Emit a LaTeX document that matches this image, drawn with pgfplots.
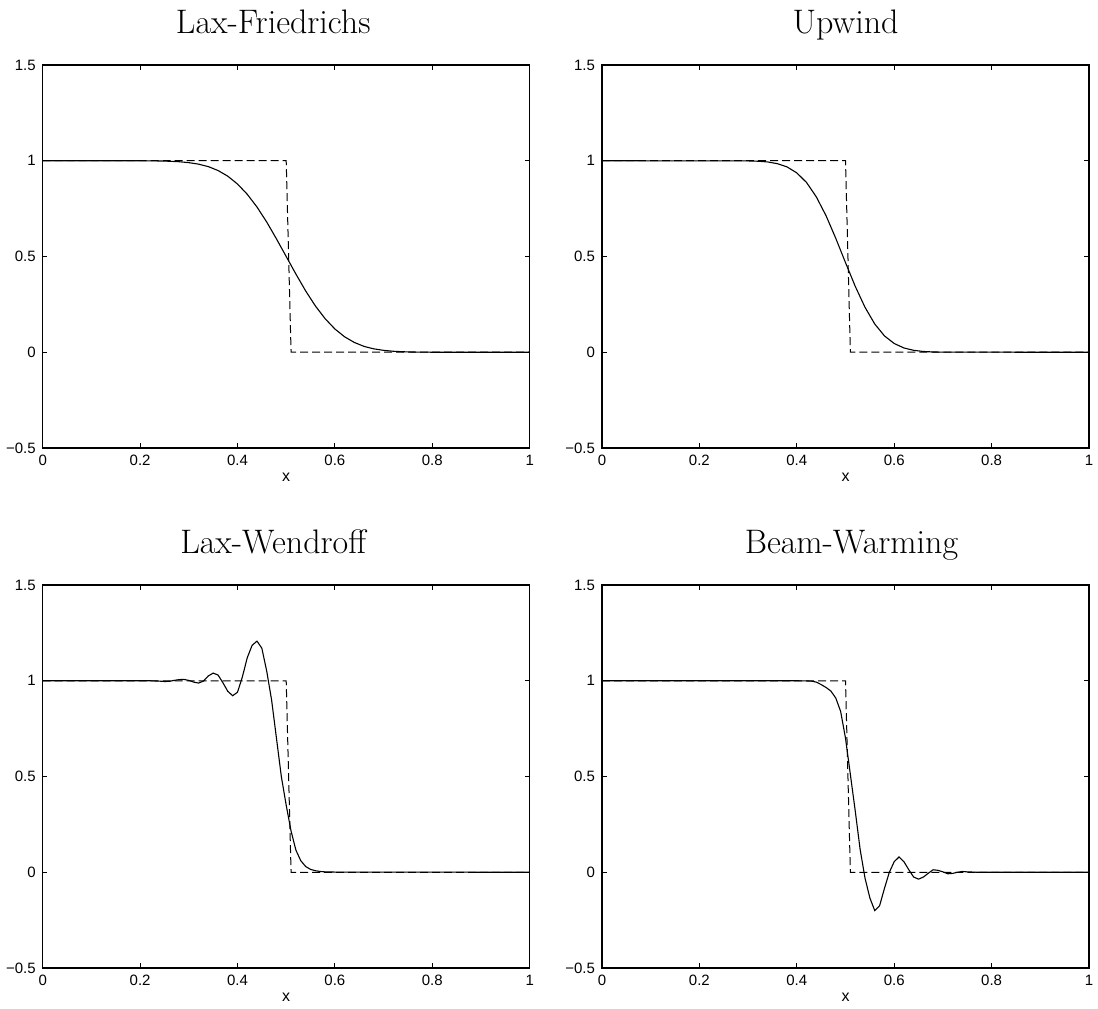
\documentclass[border=0pt]{standalone}
\usepackage{fontspec}
\usepackage{pgfplots}
\pgfplotsset{compat=1.18}
\newfontfamily\helv{Liberation Sans}

% shared look of the four panels
\pgfplotsset{
  scheme/.style={
    scale only axis, width=243.5pt, height=191.5pt,
    xmin=0, xmax=1, ymin=-0.5, ymax=1.5,
    xtick={0,0.2,0.4,0.6,0.8,1},
    xticklabels={0,0.2,0.4,0.6,0.8,1},
    ytick={-0.5,0,0.5,1,1.5},
    yticklabels={−0.5,0,0.5,1,1.5},
    tick align=inside, xtick pos=both, ytick pos=both,
    major tick length=2.4pt,
    axis line style={line width=0.7pt},
    every tick/.style={black, line width=0.5pt},
    tick label style={font=\helv\fontsize{7.5}{8}\selectfont},
    xlabel={x},
    xlabel style={font=\helv\fontsize{8}{9}\selectfont,
      at={(axis description cs:0.5,0)}, anchor=center, yshift=-14.5pt},
    every axis title shift=0pt,
    title style={font=\fontsize{17}{20}\selectfont, inner sep=0pt,
      at={(axis description cs:0.5,1)}, anchor=base, yshift=15.8pt},
  },
  exact/.style={black, line width=0.5pt, dash pattern=on 4pt off 2pt},
  num/.style={black, line width=0.55pt},
}

\pgfplotstableread{
x y
0 1
0.5 1
0.51 0
1 0
}\exact

\pgfplotstableread{
x y
0 1
0.20 0.9998
0.22 0.9995
0.24 0.9988
0.26 0.9974
0.28 0.9949
0.30 0.9901
0.32 0.9823
0.34 0.9695
0.36 0.949
0.38 0.9195
0.40 0.8785
0.42 0.825
0.44 0.7585
0.46 0.680
0.48 0.592
0.50 0.5
0.52 0.408
0.54 0.320
0.56 0.2415
0.58 0.175
0.60 0.1215
0.62 0.0805
0.64 0.051
0.66 0.0305
0.68 0.0177
0.70 0.0099
0.72 0.0051
0.74 0.0026
0.76 0.0012
0.78 0.0005
0.80 0.0002
1 0
}\laxf

\pgfplotstableread{
x y
0 1
0.30 0.9991
0.32 0.9975
0.34 0.9938
0.36 0.9847
0.38 0.9678
0.40 0.9367
0.42 0.8864
0.44 0.8116
0.46 0.7133
0.48 0.595
0.50 0.468
0.52 0.344
0.54 0.235
0.56 0.1477
0.58 0.0853
0.60 0.0457
0.62 0.0223
0.64 0.0100
0.66 0.0040
0.68 0.0015
0.70 0.0005
1 0
}\upwind

\pgfplotstableread{
x y
0 1
0.20 1.000
0.22 1.000
0.23 0.999
0.24 0.998
0.25 0.996
0.26 0.997
0.27 1.002
0.28 1.006
0.29 1.007
0.30 1.002
0.31 0.993
0.32 0.988
0.33 0.998
0.34 1.025
0.35 1.040
0.36 1.030
0.37 0.990
0.38 0.945
0.39 0.922
0.40 0.940
0.41 1.020
0.42 1.120
0.43 1.185
0.44 1.207
0.45 1.170
0.46 1.050
0.47 0.900
0.48 0.700
0.49 0.500
0.50 0.350
0.51 0.215
0.52 0.115
0.53 0.060
0.54 0.030
0.55 0.015
0.56 0.008
0.57 0.004
0.58 0.002
0.60 0.001
1 0
}\laxw

\pgfplotstableread{
x y
0 1
0.40 1.000
0.42 0.999
0.43 0.998
0.44 0.993
0.45 0.980
0.46 0.965
0.47 0.946
0.48 0.910
0.49 0.840
0.50 0.700
0.51 0.510
0.52 0.320
0.53 0.120
0.54 -0.030
0.55 -0.134
0.56 -0.200
0.57 -0.175
0.58 -0.084
0.59 0.000
0.60 0.055
0.61 0.080
0.62 0.055
0.63 0.013
0.64 -0.025
0.65 -0.036
0.66 -0.025
0.67 -0.005
0.68 0.013
0.69 0.010
0.70 0.002
0.71 -0.008
0.72 -0.006
0.73 0.000
0.74 0.004
0.75 0.002
0.77 0.000
1 0
}\beamw

\begin{document}
\begin{tikzpicture}
\useasboundingbox (-21.35pt,-20pt) rectangle (527.65pt,484pt);

\begin{axis}[scheme, at={(0pt,260pt)}, title={Lax-Friedrichs},
  title style={xshift=-6.5pt}]
\addplot[exact] table {\exact};
\addplot[num] table {\laxf};
\end{axis}

\begin{axis}[scheme, at={(279.65pt,260pt)}, title={Upwind}]
\addplot[exact] table {\exact};
\addplot[num] table {\upwind};
\end{axis}

\begin{axis}[scheme, at={(0pt,0pt)}, title={Lax-Wendroff},
  title style={xshift=-6.5pt}]
\addplot[exact] table {\exact};
\addplot[num] table {\laxw};
\end{axis}

\begin{axis}[scheme, at={(279.65pt,0pt)}, title={Beam-Warming},
  title style={xshift=3pt}]
\addplot[exact] table {\exact};
\addplot[num] table {\beamw};
\end{axis}
\end{tikzpicture}
\end{document}
